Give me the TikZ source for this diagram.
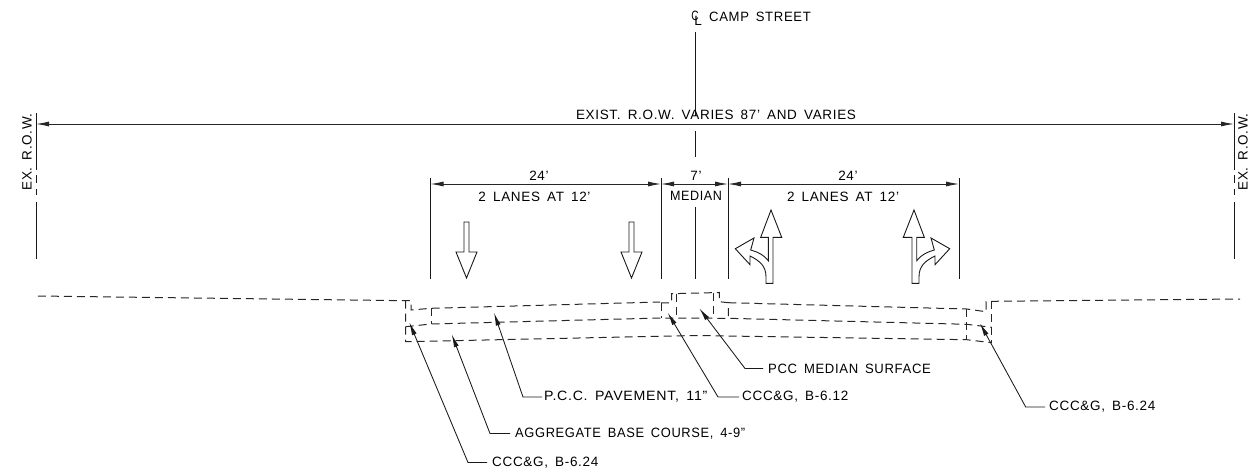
\documentclass[tikz,border=0pt]{standalone}
\usepackage{fontspec}
\setmainfont[LetterSpace=5,WordSpace=1.6]{Liberation Sans}
\usetikzlibrary{arrows,arrows.meta,positioning}

\begin{document}
\begin{tikzpicture}[
    x=1pt,
    y=-1pt,
    >={Latex[length=13pt,width=5pt]},
    font=\fontsize{13.5}{15}\selectfont,
    dim/.style={
		draw=black!85,
		line width=0.85pt,
		<->
	},
	extline/.style={
		draw=black!90,
		line width=0.85pt
	},
	surface/.style={
		draw=black!85,
		line width=1pt,
		dash pattern=on 8pt off 5pt
	},
	callout/.style={
		draw=black!90,
		line width=0.85pt,
		<-
	},
	note/.style={
		inner sep=0pt,
		anchor=west
	},
	lanearrow/.style={
		draw=black!90,
		line width=0.9pt,
		line join=miter
	}
  ]
 \useasboundingbox (0,0) rectangle (1248,474);

 % // Centre line
 \node [inner sep=0pt, xscale=0.75] (clc) at (695,15.5) {C};
 \node [inner sep=0pt] (cll) at (698,20.5) {L};
 \node [note, xscale=0.97] (camp) at (709,17) {CAMP STREET};
 \coordinate (cl1) at (695,32);
 \coordinate (cl2) at (695,116);
 \coordinate (cl3) at (695,131);
 \coordinate (cl4) at (695,157);
 \coordinate (cl5) at (695,207);
 \coordinate (cl6) at (695,279);
 \draw [extline] (cl1) -- (cl2);
 \draw [extline] (cl3) -- (cl4);
 \draw [extline] (cl5) -- (cl6);

 % // Right of way
 \coordinate (rowl) at (36,124);
 \coordinate (rowr) at (1234,124);
 \draw [dim] (rowl) -- (rowr);
 \node [inner sep=0pt] (row) at (716,115) {EXIST. R.O.W. VARIES 87' AND VARIES};
 \node [rotate=90, inner sep=0pt] (exl) at (27,152) {EX. R.O.W.};
 \node [rotate=90, inner sep=0pt] (exr) at (1243,152) {EX. R.O.W.};
 \foreach \xx in {36,1234}{
   \draw [extline] (\xx,113) -- (\xx,170);
   \draw [extline] (\xx,175) -- (\xx,183);
   \draw [extline] (\xx,189) -- (\xx,195);
   \draw [extline] (\xx,202) -- (\xx,259);
 }

 % // Lane dimensions
 \coordinate (d1) at (430.5,184);
 \coordinate (d2) at (661,184);
 \coordinate (d3) at (728,184);
 \coordinate (d4) at (959,184);
 \draw [dim] (d1) -- (d2);
 \draw [dim] (d2) -- (d3);
 \draw [dim] (d3) -- (d4);
 \foreach \xx in {430.5,661,728,959}{
   \draw [extline] (\xx,178) -- (\xx,279);
 }
 \node [inner sep=0pt] (w1) at (539,176) {24'};
 \node [inner sep=0pt] (w2) at (696,176) {7'};
 \node [inner sep=0pt] (w3) at (848,176) {24'};
 \node [inner sep=0pt] (lanes1) at (534.5,197) {2 LANES AT 12'};
 \node [inner sep=0pt, xscale=0.93] (median) at (696,196) {MEDIAN};
 \node [inner sep=0pt] (lanes2) at (843,197) {2 LANES AT 12'};

 % // Pavement arrows
 \foreach \xx in {466.5,631.5}{
   \draw [lanearrow, shift={(\xx,0)}] (-2.5,222) -- (2.5,222) -- (2.5,252) -- (10.5,252) -- (0,278) -- (-10.5,252) -- (-2.5,252) -- cycle;
 }
 \draw [lanearrow] (771,210) -- (781.7,237.3) -- (773,237.3) -- (773,283.3) -- (766,283.3) -- (766,277)
   .. controls (766,266) and (760,261) .. (750,256) -- (750,264.7) -- (735.3,248.7) -- (754,238) -- (750.7,250)
   .. controls (758,252) and (764,255) .. (768.3,260.7) -- (768.3,237.3) -- (760.7,237.3) -- cycle;
 \draw [lanearrow, xshift=1685pt, xscale=-1] (771,210) -- (781.7,237.3) -- (773,237.3) -- (773,283.3) -- (766,283.3) -- (766,277)
   .. controls (766,266) and (760,261) .. (750,256) -- (750,264.7) -- (735.3,248.7) -- (754,238) -- (750.7,250)
   .. controls (758,252) and (764,255) .. (768.3,260.7) -- (768.3,237.3) -- (760.7,237.3) -- cycle;

 % // Road section
 \draw [surface] (38,296) -- (405.7,300.7) -- (411,300.7) -- (411,310) -- (431,308.3) -- (660,302);
 \draw [surface] (405.7,300.7) -- (405.7,341.7) -- (695,335.5) -- (966.7,339.7) -- (991.7,342.7);
 \draw [surface] (405.7,326.7) -- (431,324) -- (661,318) -- (728.3,318.3) -- (966.7,324.3) -- (991.7,327.3);
 \draw [surface] (431,308.3) -- (431,324);
 \draw [surface] (661,303) -- (661,318);
 \draw [surface] (661,303) -- (671.7,302.7) -- (671.7,293.7) -- (719.3,292.5) -- (719.3,301.7) -- (728.3,302.7) -- (728.3,318.3);
 \draw [surface] (676,293.5) -- (676,318.3);
 \draw [surface] (713.3,292.5) -- (713.3,317.5);
 \draw [surface] (728.3,302.7) -- (966.7,309) -- (986,311.7) -- (986,301.7) -- (991.7,301.3) -- (1240,299);
 \draw [surface] (966.7,309) -- (966.7,339.7);
 \draw [surface] (991.7,301.3) -- (991.7,342.7);

 % // Callouts
 \node [note] (ccg1) at (492,462.5) {CCC\&G, B-6.24};
 \node [note, xscale=0.955] (base) at (515,433.5) {AGGREGATE BASE COURSE, 4-9"};
 \node [note, xscale=1.05] (pave) at (544,397) {P.C.C. PAVEMENT, 11"};
 \node [note] (ccg2) at (742,397) {CCC\&G, B-6.12};
 \node [note, xscale=0.97] (surf) at (768,368.5) {PCC MEDIAN SURFACE};
 \node [note] (ccg3) at (1049,407) {CCC\&G, B-6.24};

 \coordinate (t1) at (409.3,322.3);
 \coordinate (t2) at (451.7,334.3);
 \coordinate (t3) at (494,312.7);
 \coordinate (t4) at (667.7,312.7);
 \coordinate (t5) at (699.3,308.3);
 \coordinate (t6) at (980,323.3);

 \draw [callout] (t1) -- (468,462.5) -- ([xshift=-5pt]ccg1.west);
 \draw [callout] (t2) -- (490,433.5) -- ([xshift=-5pt]base.west);
 \draw [callout] (t3) -- (523,397) -- ([xshift=-2pt]pave.west);
 \draw [callout] (t4) -- (718,397) -- ([xshift=-3pt]ccg2.west);
 \draw [callout] (t5) -- (745,368.5) -- ([xshift=-5pt]surf.west);
 \draw [callout] (t6) -- (1025.7,407) -- ([xshift=-4pt]ccg3.west);

\end{tikzpicture}
\end{document}
